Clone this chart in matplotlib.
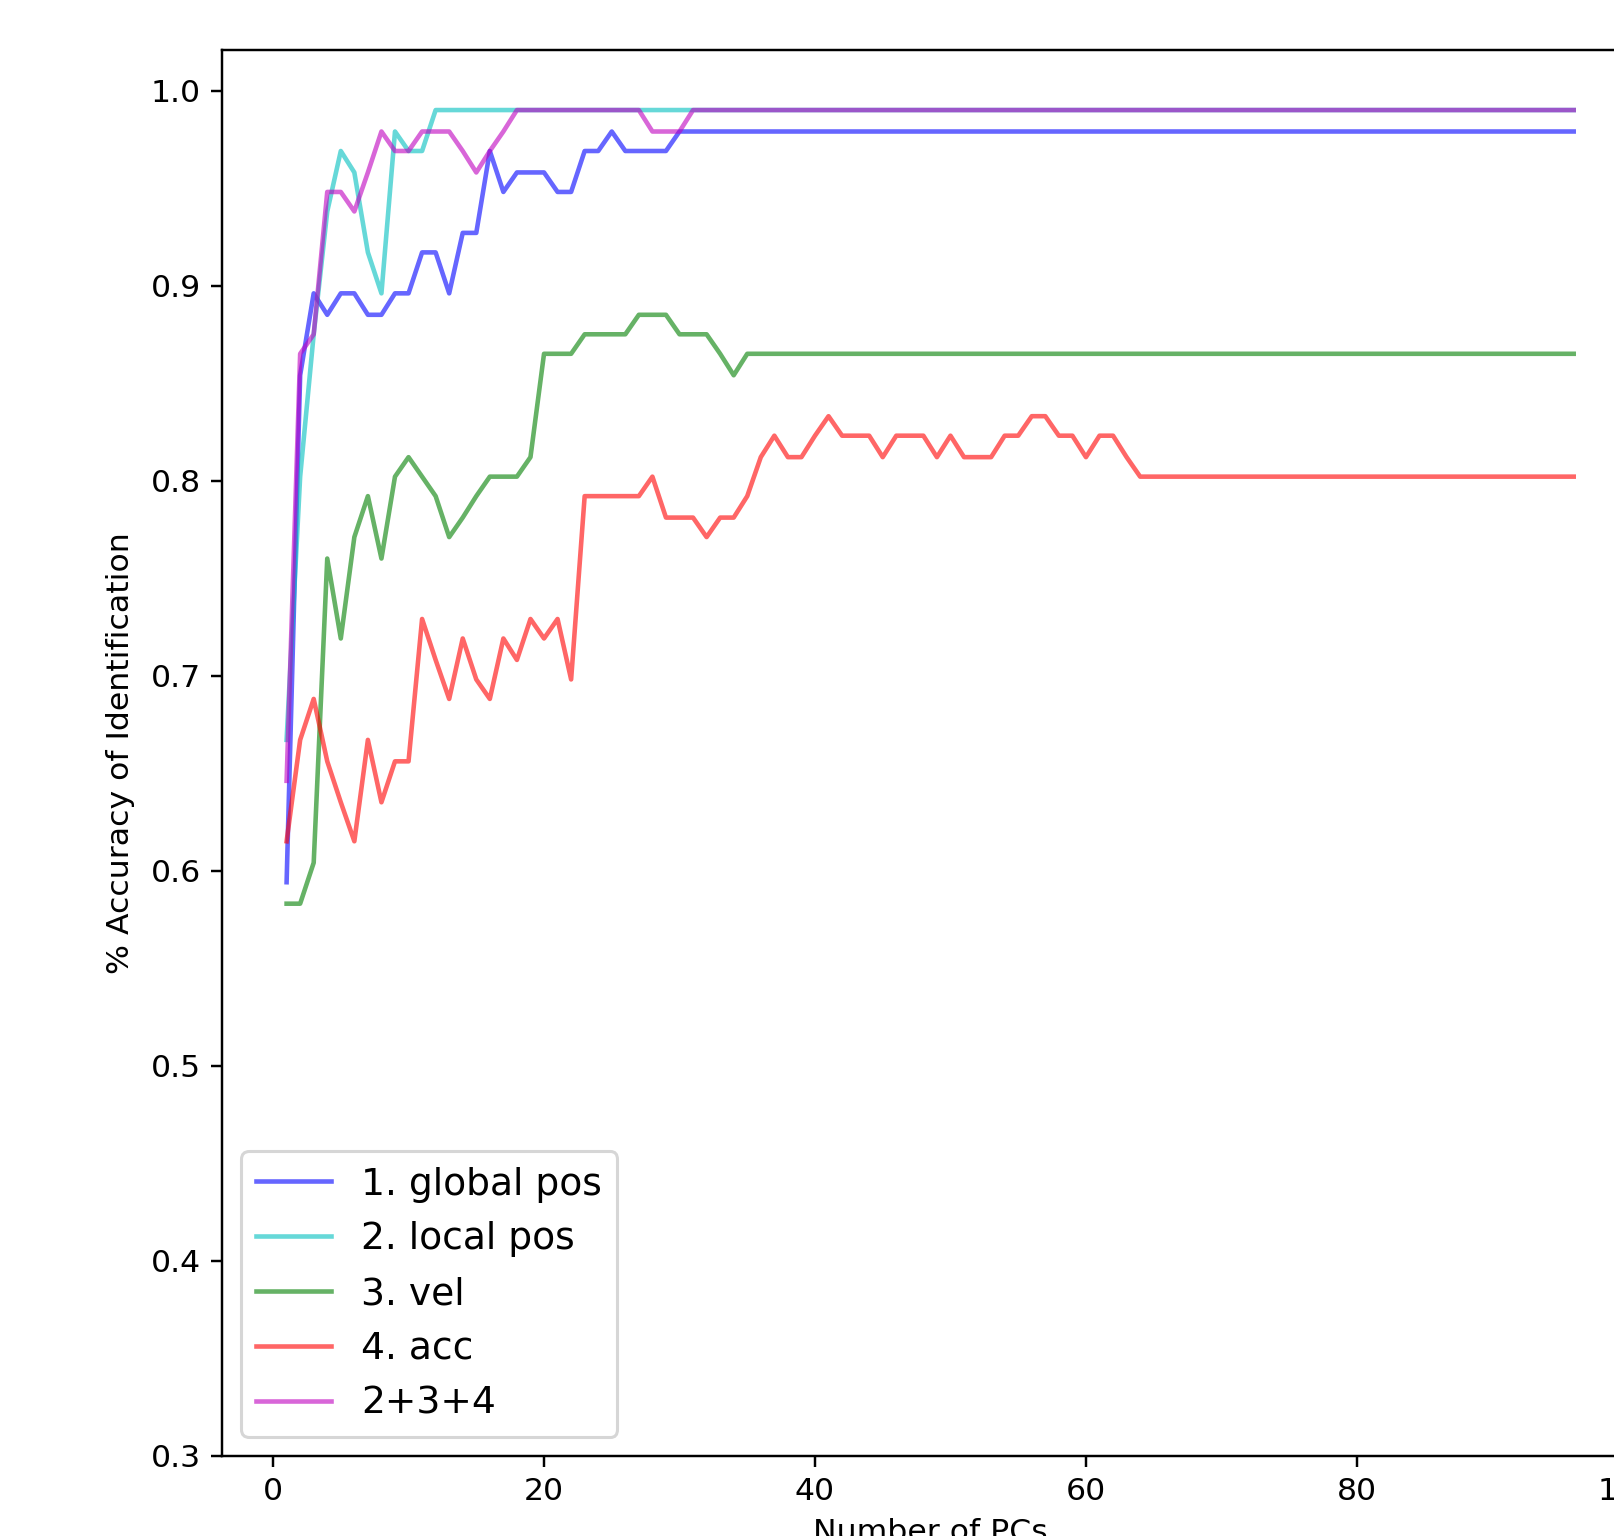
import numpy as np
import matplotlib
matplotlib.use("Agg")
import matplotlib.pyplot as plt

# Number of principal components used
n_pcs = np.arange(1, 97)

# Accuracy per feature set
global_pos = [0.594, 0.854, 0.896, 0.885, 0.896, 0.896, 0.885, 0.885, 0.896, 0.896,
              0.917, 0.917, 0.896, 0.927, 0.927, 0.969, 0.948, 0.958, 0.958, 0.958,
              0.948, 0.948, 0.969, 0.969, 0.979, 0.969, 0.969, 0.969, 0.969, 0.979] + [0.979] * 66
local_pos = [0.667, 0.802, 0.875, 0.938, 0.969, 0.958, 0.917, 0.896, 0.979, 0.969,
             0.969, 0.990] + [0.990] * 84
vel = [0.583, 0.583, 0.604, 0.760, 0.719, 0.771, 0.792, 0.760, 0.802, 0.812,
       0.802, 0.792, 0.771, 0.781, 0.792, 0.802, 0.802, 0.802, 0.812, 0.865,
       0.865, 0.865, 0.875, 0.875, 0.875, 0.875, 0.885, 0.885, 0.885, 0.875,
       0.875, 0.875, 0.865, 0.854, 0.865] + [0.865] * 61
acc = [0.615, 0.667, 0.688, 0.656, 0.635, 0.615, 0.667, 0.635, 0.656, 0.656,
       0.729, 0.708, 0.688, 0.719, 0.698, 0.688, 0.719, 0.708, 0.729, 0.719,
       0.729, 0.698, 0.792, 0.792, 0.792, 0.792, 0.792, 0.802, 0.781, 0.781,
       0.781, 0.771, 0.781, 0.781, 0.792, 0.812, 0.823, 0.812, 0.812, 0.823,
       0.833, 0.823, 0.823, 0.823, 0.812, 0.823, 0.823, 0.823, 0.812, 0.823,
       0.812, 0.812, 0.812, 0.823, 0.823, 0.833, 0.833, 0.823, 0.823, 0.812,
       0.823, 0.823, 0.812, 0.802] + [0.802] * 32
combo = [0.646, 0.865, 0.875, 0.948, 0.948, 0.938, 0.958, 0.979, 0.969, 0.969,
         0.979, 0.979, 0.979, 0.969, 0.958, 0.969, 0.979, 0.990, 0.990, 0.990,
         0.990, 0.990, 0.990, 0.990, 0.990, 0.990, 0.990, 0.979, 0.979, 0.979,
         0.990] + [0.990] * 65

labels = ["1. global pos", "2. local pos", "3. vel", "4. acc", "2+3+4"]
colors = ["b", "c", "g", "r", "m"]

dpi = 220
plt.rcParams["font.size"] = 10.3
fig = plt.figure(figsize=(1614 / dpi, 1536 / dpi), dpi=dpi)
# axes run past the right/bottom edge, as in the cropped reference
ax = fig.add_axes([0.1377, 0.0524, 0.8772, 0.9148])

for series, lab, col in zip([global_pos, local_pos, vel, acc, combo], labels, colors):
    ax.plot(n_pcs, series, color=col, alpha=0.6, label=lab)

ax.set_xlim(-3.75, 100.75)
ax.set_ylim(0.3, 1.0206)
ax.set_xlabel("Number of PCs")
ax.set_ylabel("% Accuracy of Identification", labelpad=5)
ax.legend(loc="lower left", fontsize=12.3)

fig.savefig("out.png", dpi=dpi)
